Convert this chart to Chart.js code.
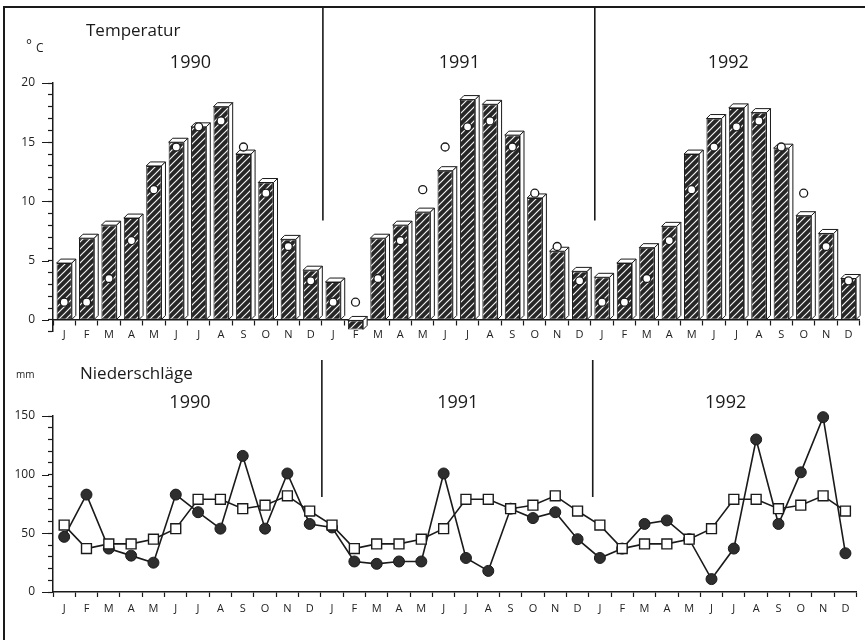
<!DOCTYPE html>
<html>
<head>
<meta charset="utf-8">
<script src="https://cdn.jsdelivr.net/npm/chart.js@4.4.0/dist/chart.umd.min.js"></script>
<style>
body{margin:0;background:#fff;width:865px;height:640px;overflow:hidden;position:relative}
#frame{position:absolute;left:3px;top:6px;width:880px;height:650px;border-left:2px solid #1a1a1a;border-top:2px solid #1a1a1a}
canvas{position:absolute;left:0}
#tempchart{top:0}
#rainchart{top:345px}
</style>
</head>
<body>
<div id="frame"></div>
<canvas id="tempchart" width="865" height="352"></canvas>
<canvas id="rainchart" width="865" height="295"></canvas>
<script>
'use strict';
const months = ['J', 'F', 'M', 'A', 'M', 'J', 'J', 'A', 'S', 'O', 'N', 'D'];
const years = ['1990', '1991', '1992'];

// Temperatur, Monatsmittel (°C)
const temp1990 = [4.8, 6.9, 8.0, 8.6, 13.0, 15.0, 16.3, 18.0, 14.0, 11.6, 6.8, 4.2];
const temp1991 = [3.2, -0.8, 6.9, 8.0, 9.1, 12.6, 18.6, 18.2, 15.6, 10.3, 5.8, 4.1];
const temp1992 = [3.6, 4.8, 6.1, 7.9, 14.0, 17.0, 17.9, 17.5, 14.5, 8.8, 7.3, 3.5];
// langjähriges Mittel
const tempMean1990 = [1.5, 1.5, 3.5, 6.7, 11.0, 14.6, 16.3, 16.8, 14.6, 10.7, 6.2, 3.3];
const tempMean1991 = [1.5, 1.5, 3.5, 6.7, 11.0, 14.6, 16.3, 16.8, 14.6, 10.7, 6.2, 3.3];
const tempMean1992 = [1.5, 1.5, 3.5, 6.7, 11.0, 14.6, 16.3, 16.8, 14.6, 10.7, 6.2, 3.3];

// Niederschläge (mm)
const rain1990 = [47, 83, 37, 31, 25, 83, 68, 54, 116, 54, 101, 58];
const rain1991 = [55, 26, 24, 26, 26, 101, 29, 18, 71, 63, 68, 45];
const rain1992 = [29, 37, 58, 61, 45, 11, 37, 130, 58, 102, 149, 33];
const rainMean1990 = [57, 37, 41, 41, 45, 54, 79, 79, 71, 74, 82, 69];
const rainMean1991 = [57, 37, 41, 41, 45, 54, 79, 79, 71, 74, 82, 69];
const rainMean1992 = [57, 37, 41, 41, 45, 54, 79, 79, 71, 74, 82, 69];

const labels = months.concat(months, months);
const ink = '#1a1a1a';
const fontFamily = "'Open Sans', sans-serif";

const hatch = () => {
    const c = document.createElement('canvas');
    c.width = 7; c.height = 7;
    const g = c.getContext('2d');
    g.fillStyle = '#262626';
    g.fillRect(0, 0, 7, 7);
    g.strokeStyle = '#f4f4f4';
    g.lineWidth = 1.2;
    g.beginPath();
    g.moveTo(-1, 8); g.lineTo(8, -1);
    g.moveTo(-1, 1); g.lineTo(1, -1);
    g.moveTo(6, 8); g.lineTo(8, 6);
    g.stroke();
    return g.createPattern(c, 'repeat');
};

const draw3d = (chart, meta) => {
    const ctx = chart.ctx, d = 4;
    ctx.save();
    ctx.fillStyle = '#fff';
    ctx.strokeStyle = ink;
    ctx.lineWidth = 1;
    meta.data.forEach(bar => {
        const {x, y, base, width} = bar.getProps(['x', 'y', 'base', 'width'], true);
        const l = x - width / 2, r = x + width / 2;
        const t = Math.min(y, base), b = Math.max(y, base);
        ctx.beginPath();
        ctx.moveTo(l, t); ctx.lineTo(l + d, t - d); ctx.lineTo(r + d, t - d); ctx.lineTo(r, t);
        ctx.closePath(); ctx.fill(); ctx.stroke();
        ctx.beginPath();
        ctx.moveTo(r, t); ctx.lineTo(r + d, t - d); ctx.lineTo(r + d, b - d); ctx.lineTo(r, b);
        ctx.closePath(); ctx.fill(); ctx.stroke();
    });
    ctx.restore();
};

// Beschriftung, Jahrestrenner, lange Hauptstriche
const panelExtras = cfg => ({
    id: 'panelExtras',
    afterDatasetDraw(chart, args) {
        if (cfg.depth && args.index === 0) draw3d(chart, args.meta);
    },
    afterDraw(chart) {
        const {ctx, chartArea, scales: {x, y}} = chart;
        ctx.save();
        ctx.strokeStyle = ink;
        ctx.lineWidth = 1.2;
        ctx.beginPath();
        y.ticks.forEach(t => {
            if (t.value >= 0 && t.value % cfg.major === 0) {
                const py = Math.round(y.getPixelForValue(t.value)) + 0.5;
                ctx.moveTo(chartArea.left - 11, py);
                ctx.lineTo(chartArea.left - 4, py);
            }
        });
        ctx.stroke();

        ctx.lineWidth = 1.6;
        ctx.beginPath();
        [12, 24].forEach((k, i) => {
            const px = (x.getPixelForValue(k - 1) + x.getPixelForValue(k)) / 2 + cfg.sepShift[i];
            ctx.moveTo(px, cfg.sepTop);
            ctx.lineTo(px, y.getPixelForValue(cfg.sepEnd));
        });
        ctx.stroke();

        ctx.fillStyle = ink;
        ctx.textAlign = 'center';
        ctx.textBaseline = 'middle';
        ctx.font = '18px ' + fontFamily;
        years.forEach((yr, i) => {
            const cx = (x.getPixelForValue(12 * i) + x.getPixelForValue(12 * i + 11)) / 2;
            ctx.fillText(yr, cx + 3, cfg.yearY);
        });

        ctx.textAlign = 'left';
        ctx.textBaseline = 'alphabetic';
        ctx.font = '17px ' + fontFamily;
        ctx.fillText(cfg.title, cfg.titleX, cfg.titleY);
        cfg.unit.forEach(u => {
            ctx.font = u.size + 'px ' + fontFamily;
            ctx.fillText(u.text, u.x, u.y);
        });
        ctx.restore();
    }
});

const xAxis = extra => Object.assign({
    type: 'category',
    offset: true,
    grid: {offset: true, drawOnChartArea: false, tickLength: 5, color: ink, tickWidth: 1.2},
    border: {color: ink, width: 1.5},
    ticks: {color: '#222', font: {family: fontFamily, size: 11}, maxRotation: 0, autoSkip: false, padding: 3}
}, extra);

const yAxis = (min, max, step, major) => ({
    min: min,
    max: max,
    afterFit: s => { s.width = 53; },
    grid: {drawOnChartArea: false, tickLength: 5, color: ink, tickWidth: 1.2},
    border: {color: ink, width: 1.5},
    ticks: {
        stepSize: step,
        autoSkip: false,
        padding: 13,
        color: '#222',
        font: {family: fontFamily, size: 12},
        callback: v => (v >= 0 && v % major === 0) ? v : ''
    }
});

const tempChart = () => {
    new Chart(document.querySelector('#tempchart'), {
        type: 'bar',
        data: {
            labels: labels,
            datasets: [{
                label: 'Temperatur',
                data: temp1990.concat(temp1991, temp1992),
                backgroundColor: hatch(),
                borderColor: ink,
                borderWidth: 1,
                borderSkipped: false,
                barPercentage: 0.68,
                categoryPercentage: 1,
                order: 2
            },
            {
                type: 'line',
                label: 'Mittel',
                data: tempMean1990.concat(tempMean1991, tempMean1992),
                showLine: false,
                pointStyle: 'circle',
                pointRadius: 4,
                pointBackgroundColor: '#fff',
                pointBorderColor: ink,
                pointBorderWidth: 1.3,
                order: 1
            }]
        },
        options: {
            responsive: false,
            animation: false,
            layout: {padding: {top: 83, right: 3, bottom: 0, left: 0}},
            plugins: {legend: {display: false}, tooltip: {enabled: false}},
            scales: {
                x: xAxis({position: {y: 0}}),
                y: yAxis(-1, 20, 1, 5)
            }
        },
        plugins: [panelExtras({
            depth: true, major: 5, sepTop: 7, sepEnd: 8.4, sepShift: [1, 4], yearY: 63,
            title: 'Temperatur', titleX: 86, titleY: 36,
            unit: [{text: '°', x: 26, y: 50, size: 14}, {text: 'C', x: 36, y: 52, size: 12}]
        })]
    });
};

const rainChart = () => {
    new Chart(document.querySelector('#rainchart'), {
        type: 'line',
        data: {
            labels: labels,
            datasets: [{
                label: 'Niederschlag',
                data: rain1990.concat(rain1991, rain1992),
                borderColor: ink,
                borderWidth: 1.6,
                pointStyle: 'circle',
                pointRadius: 5.5,
                pointBackgroundColor: '#2e2e2e',
                pointBorderColor: ink,
                pointBorderWidth: 1,
                tension: 0,
                clip: false,
                order: 2
            },
            {
                label: 'Mittel',
                data: rainMean1990.concat(rainMean1991, rainMean1992),
                borderColor: ink,
                borderWidth: 1.6,
                pointStyle: 'rect',
                pointRadius: 7,
                pointBackgroundColor: '#fff',
                pointBorderColor: ink,
                pointBorderWidth: 1.4,
                tension: 0,
                clip: false,
                order: 1
            }]
        },
        options: {
            responsive: false,
            animation: false,
            layout: {padding: {top: 71, right: 3, bottom: 0, left: 0}},
            plugins: {legend: {display: false}, tooltip: {enabled: false}},
            scales: {
                x: xAxis({position: 'bottom', afterFit: s => { s.height = 48; }, ticks: {
                    color: '#222', font: {family: fontFamily, size: 11}, maxRotation: 0, autoSkip: false, padding: 5
                }}),
                y: yAxis(0, 150, 10, 50)
            }
        },
        plugins: [panelExtras({
            depth: false, major: 50, sepTop: 15, sepEnd: 81, sepShift: [1, 4], yearY: 58,
            title: 'Niederschläge', titleX: 80, titleY: 34,
            unit: [{text: 'mm', x: 16, y: 33, size: 10}]
        })]
    });
};

tempChart();
rainChart();
</script>
</body>
</html>
